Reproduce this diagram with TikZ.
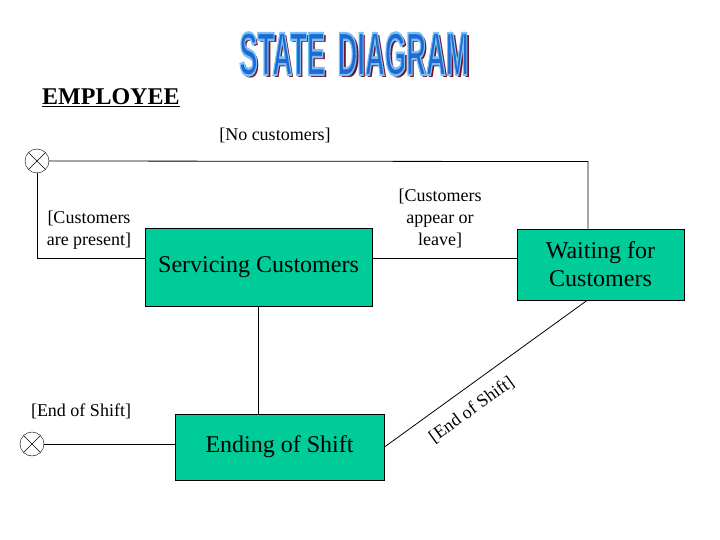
\documentclass[tikz,border=0pt]{standalone}
\usepackage{fontspec}
\setmainfont{Liberation Serif}
\newfontfamily\titlefont{Liberation Sans}
\usetikzlibrary{positioning,calc}
\definecolor{stategreen}{RGB}{0,204,153}
\definecolor{titleblue}{RGB}{30,105,210}
\definecolor{titlelight}{RGB}{120,190,245}
\definecolor{titleshade}{RGB}{110,20,40}
\newcommand{\titletext}{\scalebox{0.45}[1]{\titlefont\bfseries\fontsize{61}{61}\selectfont STATE\hspace{0.45em}DIAGRAM}}
\newcommand{\outlinedtitle}{\special{pdf:code 2 Tr 2.4 w 0.47 0.75 0.96 RG}\titletext\special{pdf:code 0 Tr}}
\tikzset{
    state/.style={
        draw,
        fill=stategreen,
        rectangle,
        line width=0.9pt,
        align=center,
        font=\fontsize{24}{28}\selectfont
    },
    pseudo/.style={
        draw,
        circle,
        thin,
        minimum size=24pt,
        inner sep=0pt,
        path picture={
            \draw[thin] (path picture bounding box.north west) -- (path picture bounding box.south east)
                  (path picture bounding box.north east) -- (path picture bounding box.south west);
        }
    },
    guard/.style={
        align=center,
        inner sep=1pt,
        font=\fontsize{18}{22}\selectfont
    },
    trans/.style={
        draw,
        line width=0.8pt
    },
    banner/.style={
        inner sep=0pt
    },
}

\begin{document}
\begin{tikzpicture}[x=1pt, y=-1pt]
    \useasboundingbox (0,0) rectangle (720,540);
    % title
    \node[banner, text=titleshade] (titleshadow) at (356.5,56.5) {\titletext};
    \node[banner, text=titleblue] (title) at (354,54) {\outlinedtitle};
    \node[anchor=base west, inner sep=0pt, font=\fontsize{24}{28}\selectfont\bfseries] (employee) at (42,105) {\underline{EMPLOYEE}};

    % states
    \node[state, minimum width=227pt, minimum height=78pt] (serv) at (258.5,267) {\raisebox{-2pt}{Servicing Customers}};
    \node[state, minimum width=167pt, minimum height=71pt] (wait) at (600.5,264.5) {Waiting for\\Customers};
    \node[state, minimum width=209pt, minimum height=66pt] (ending) at (279.5,447) {\raisebox{-2pt}{Ending of Shift}};
    \node[pseudo] (start) at (37,161) {};
    \node[pseudo] (final) at (32,444) {};

    % connector coordinates
    \coordinate (topright) at ($(wait.north)+(-12.5,-67)$);
    \coordinate (servin)  at ($(serv.west)+(0,-9)$);
    \coordinate (servout) at ($(serv.east)+(0,-9)$);
    \coordinate (waitin)  at ($(wait.south)+(-13.5,0)$);

    % lines
    \draw[trans] (start.east) -- (topright) -- (topright |- wait.north);
    \draw[trans] (start.south) |- (servin);
    \draw[trans] (servout) -- (servout -| wait.west);
    \draw[trans] (serv.south) -- (serv.south |- ending.north);
    \draw[trans] (final.east) -- (final.east -| ending.west);
    \draw[trans] (ending.east) -- node[guard, sloped, below=12pt, pos=0.37] (endlbl) {[End of Shift]} (waitin);

    % guards
    \node[guard] (nocust) at (275,135.5) {[No customers]};
    \node[guard] (present) at (89,230.5) {[Customers\\are present]};
    \node[guard] (appear) at (440,218) {[Customers\\appear or\\leave]};
    \node[guard] (endshift) at (81,411) {[End of Shift]};
\end{tikzpicture}
\end{document}
